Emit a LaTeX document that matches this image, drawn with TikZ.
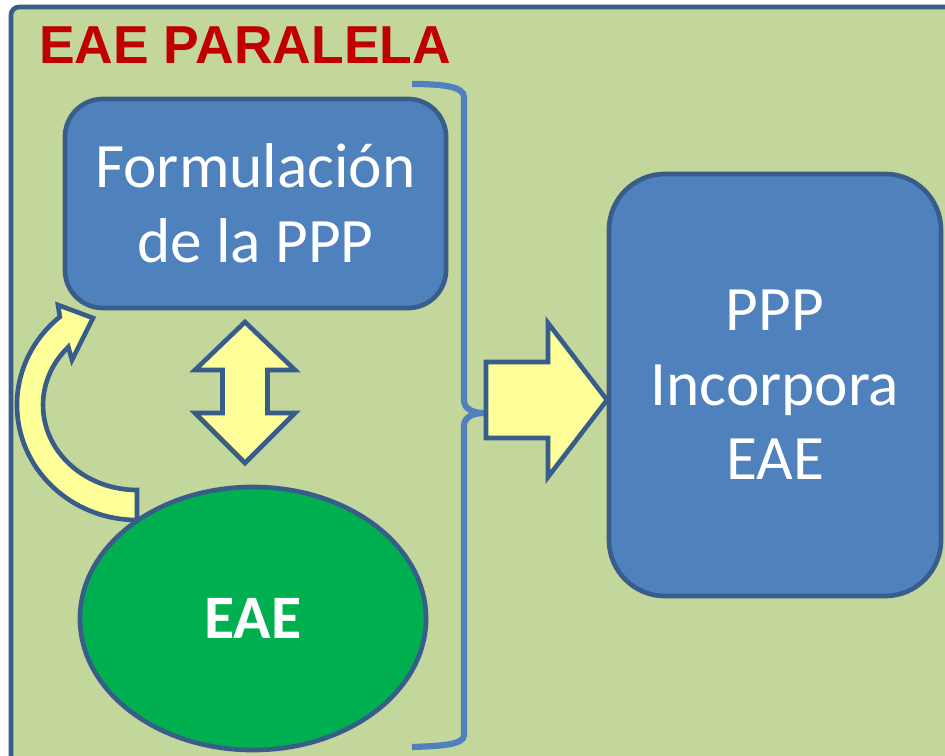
\documentclass[tikz,border=0pt]{standalone}
\usepackage{fontspec}
\setmainfont{Carlito}
\newfontfamily\titlefont{Liberation Sans}
\usetikzlibrary{shapes.geometric}

\definecolor{fondo}{RGB}{195,214,155}
\definecolor{azul}{RGB}{79,129,189}
\definecolor{borde}{RGB}{56,93,138}
\definecolor{verde}{RGB}{0,176,80}
\definecolor{amarillo}{RGB}{255,255,153}
\definecolor{rojo}{RGB}{192,0,0}

\begin{document}
\begin{tikzpicture}[x=0.025cm,y=-0.025cm]
  \tikzstyle{caja}=[draw=borde, fill=azul, line width=3.3pt, rounded corners=0.95cm, text=white, align=center, font=\fontsize{45}{53}\selectfont]
  \tikzstyle{flecha}=[draw=borde, fill=amarillo, line width=3.3pt, line join=miter]
  \tikzstyle{llave}=[draw=azul, line width=4.4pt]

  \useasboundingbox (0,0) rectangle (945,755);
  \clip (0,0) rectangle (945,755);
  \draw[borde, fill=fondo, line width=3.3pt, rounded corners=0.2cm] (11,7) rectangle (975,775);

  \node[anchor=base west, inner sep=0, text=rojo, font=\titlefont\bfseries\fontsize{38}{44}\selectfont](titulo) at (39,64) {EAE PARALELA};

  \node[caja, minimum width=9.525cm, minimum height=5.225cm](form) at (255.5,203.5){Formulación\\de la PPP};
  \node[caja, rounded corners=1.4cm, minimum width=8.3cm, minimum height=10.55cm](ppp) at (775,385){PPP\\Incorpora\\EAE};
  \node[ellipse, draw=borde, fill=verde, line width=3.3pt, minimum width=8.65cm, minimum height=6.575cm, text=white, font=\bfseries\fontsize{44}{52}\selectfont](eae) at (253,618.5){EAE};

  \draw[flecha] (137,520) arc[start angle=270, end angle=130, x radius=3cm, y radius=2.875cm]
    -- (58,305) -- (93,318) -- (72,360) -- (68.3,347)
    arc[start angle=137, end angle=270, x radius=2.35cm, y radius=2.125cm] -- cycle;

  \draw[flecha] (245,322) -- (295,370) -- (267.5,370) -- (267.5,413) -- (295,413) -- (245,463)
    -- (195,413) -- (222.5,413) -- (222.5,370) -- (195,370) -- cycle;

  \draw[llave] (412,84) .. controls (440,84) and (464,86) .. (464,97) -- (464,400)
    .. controls (464,410) and (475,413) .. (484,413)
    .. controls (475,413) and (464,416) .. (464,426) -- (464,735)
    .. controls (464,745) and (440,746) .. (412,747);

  \draw[flecha] (486,362) -- (548,362) -- (548,323) -- (607,400) -- (548,477) -- (548,438) -- (486,438) -- cycle;
\end{tikzpicture}
\end{document}
